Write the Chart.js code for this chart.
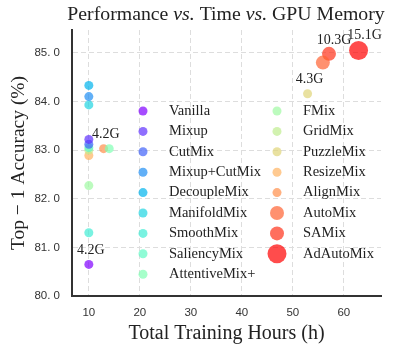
<!DOCTYPE html>
<html>
<head>
<meta charset="utf-8">
<script src="https://cdn.jsdelivr.net/npm/chart.js@4.4.1/dist/chart.umd.min.js"></script>
<style>
  html, body { margin: 0; padding: 0; background: #fff; }
  #wrap { width: 397px; height: 352px; }
</style>
</head>
<body>
<div id="wrap"><canvas id="chart_perf"></canvas></div>
<script>
// data
const methods = ['Vanilla', 'Mixup', 'CutMix', 'Mixup+CutMix', 'DecoupleMix', 'ManifoldMix',
  'SmoothMix', 'SaliencyMix', 'AttentiveMix+', 'FMix', 'GridMix', 'PuzzleMix',
  'ResizeMix', 'AlignMix', 'AutoMix', 'SAMix', 'AdAutoMix'];
const hours = [10, 10, 10, 10, 10, 10, 10, 10, 14, 10, 10, 52.9, 10, 12.9, 55.9, 57.1, 62.9];
const accuracy = [80.65, 83.22, 83.12, 84.10, 84.33, 83.93, 81.30, 83.05, 83.03, 82.27, 83.00,
  84.16, 82.89, 83.03, 84.80, 84.98, 85.05];
const memoryLabels = ['4.2G', '4.2G', '', '', '', '', '', '', '', '', '', '4.3G', '', '', '', '10.3G', '15.1G'];

// styles
const markerRadius = [4.5, 4.5, 4.5, 4.5, 4.5, 4.5, 4.5, 4.5, 4.5, 4.5, 4.5, 4.5, 4.5, 4.5, 7, 7, 9.5];
const labelOffset = [[2, -14], [17, -5], [0, 0], [0, 0], [0, 0], [0, 0], [0, 0], [0, 0], [0, 0],
  [0, 0], [0, 0], [2, -14], [0, 0], [0, 0], [0, 0], [5, -14], [6, -15]];
const serif = '"Liberation Serif", "Times New Roman", serif';
const sans = '"Liberation Sans", Arial, sans-serif';

// matplotlib "rainbow" colormap
function rainbow(t, alpha) {
  let r = Math.min(1, Math.abs(2 * t - 0.5));
  let g = Math.sin(Math.PI * t);
  let b = Math.cos(Math.PI * t / 2);
  return 'rgba(' + Math.round(r * 255) + ',' + Math.round(g * 255) + ',' + Math.round(b * 255) + ',' + alpha + ')';
}

let datasets = [];
for (let i = 0; i < methods.length; i++) {
  let c = rainbow(i / (methods.length - 1), 0.7);
  datasets.push({
    label: methods[i],
    data: [{x: hours[i], y: accuracy[i]}],
    backgroundColor: c,
    borderColor: c,
    borderWidth: 0,
    pointRadius: markerRadius[i],
    pointHoverRadius: markerRadius[i]
  });
}

const titlePlugin = {
  id: 'mixedTitle',
  afterDraw(chart) {
    const ctx = chart.ctx;
    const parts = [['Performance ', ''], ['vs.', 'italic '], [' Time ', ''], ['vs.', 'italic '], [' GPU Memory', '']];
    const size = 19.8;
    let total = 0;
    parts.forEach(p => { ctx.font = p[1] + size + 'px ' + serif; total += ctx.measureText(p[0]).width; });
    let x = 226 - total / 2;
    ctx.save();
    ctx.fillStyle = '#222';
    ctx.textBaseline = 'middle';
    ctx.textAlign = 'left';
    parts.forEach(p => {
      ctx.font = p[1] + size + 'px ' + serif;
      ctx.fillText(p[0], x, 15);
      x += ctx.measureText(p[0]).width;
    });
    ctx.restore();
  }
};

const legendPlugin = {
  id: 'insideLegend',
  afterDatasetsDraw(chart) {
    const ctx = chart.ctx;
    ctx.save();
    ctx.font = '14.5px ' + serif;
    ctx.textBaseline = 'middle';
    ctx.fillStyle = '#222';
    for (let i = 0; i < methods.length; i++) {
      let col = i < 9 ? 0 : 1;
      let row = i < 9 ? i : i - 9;
      let mx = col == 0 ? 143 : 277;
      let my = 111 + row * 20.4;
      ctx.beginPath();
      ctx.arc(mx, my, markerRadius[i], 0, Math.PI * 2);
      ctx.fillStyle = datasets[i].backgroundColor;
      ctx.fill();
      ctx.fillStyle = '#222';
      ctx.fillText(methods[i], mx + 26, my);
    }
    ctx.restore();
  }
};

const memoryPlugin = {
  id: 'memoryLabels',
  afterDatasetsDraw(chart) {
    const ctx = chart.ctx;
    const xs = chart.scales.x;
    const ys = chart.scales.y;
    ctx.save();
    ctx.font = '14px ' + serif;
    ctx.textAlign = 'center';
    ctx.textBaseline = 'middle';
    ctx.fillStyle = '#222';
    for (let i = 0; i < methods.length; i++) {
      if (!memoryLabels[i]) continue;
      let px = xs.getPixelForValue(hours[i]) + labelOffset[i][0];
      let py = ys.getPixelForValue(accuracy[i]) + labelOffset[i][1];
      ctx.fillText(memoryLabels[i], px, py);
    }
    ctx.restore();
  }
};

new Chart(document.getElementById('chart_perf'), {
  type: 'scatter',
  data: { datasets: datasets },
  plugins: [titlePlugin, legendPlugin, memoryPlugin],
  options: {
    responsive: true,
    maintainAspectRatio: false,
    animation: false,
    layout: { padding: { top: 30, right: 16, left: 0, bottom: 0 } },
    plugins: {
      legend: { display: false },
      tooltip: { enabled: false },
      title: { display: false }
    },
    scales: {
      x: {
        type: 'linear',
        min: 6.7,
        max: 67.3,
        afterFit: (scale) => { scale.height = 56; },
        ticks: {
          stepSize: 10,
          includeBounds: false,
          padding: 10,
          color: '#333',
          font: { family: sans, size: 11.5 }
        },
        grid: { color: '#dddddd', drawTicks: false, lineWidth: 1 },
        border: { display: true, color: '#333', width: 2, dash: [5, 3] },
        title: {
          display: true,
          text: 'Total Training Hours (h)',
          color: '#222',
          font: { family: serif, size: 20 },
          padding: { top: 0, bottom: 6 }
        }
      },
      y: {
        min: 80,
        max: 85.47,
        afterFit: (scale) => { scale.width = 72; },
        ticks: {
          stepSize: 1,
          includeBounds: false,
          padding: 12,
          color: '#333',
          font: { family: sans, size: 11.5 },
          callback: (v) => v.toFixed(1).replace('.', '. ')
        },
        grid: { color: '#dddddd', drawTicks: false, lineWidth: 1 },
        border: { display: true, color: '#333', width: 2, dash: [5, 3] },
        title: {
          display: true,
          text: 'Top − 1 Accuracy (%)',
          color: '#222',
          font: { family: serif, size: 19.5 },
          padding: { top: 7, bottom: 0 }
        }
      }
    }
  }
});
</script>
</body>
</html>
